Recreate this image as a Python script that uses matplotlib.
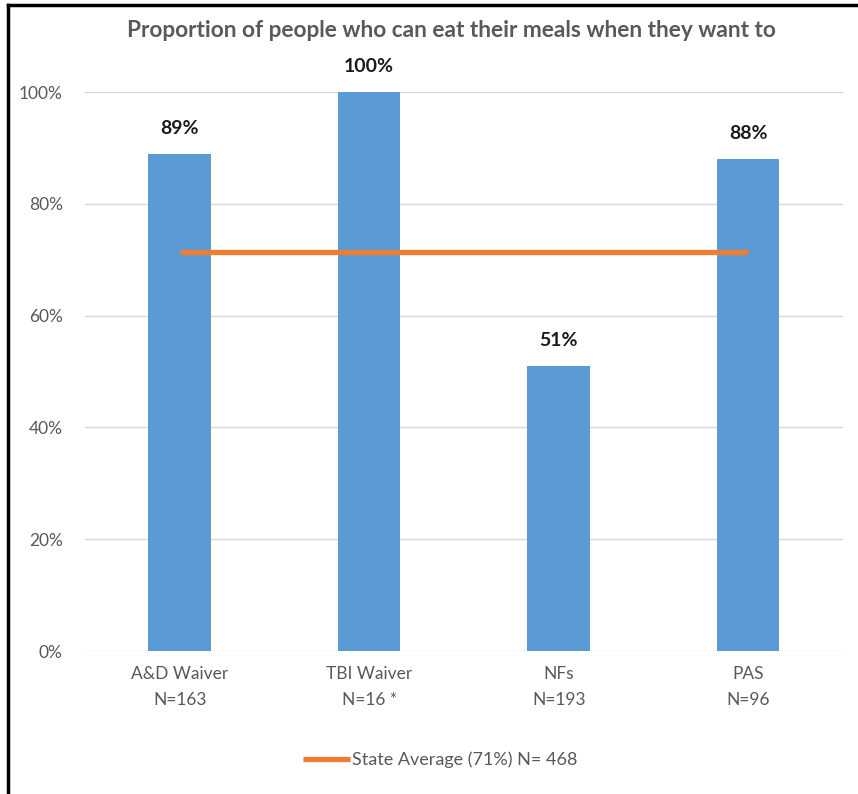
import matplotlib.pyplot as plt
from matplotlib.lines import Line2D
from matplotlib.ticker import PercentFormatter

categories = ["A&D Waiver\nN=163", "TBI Waiver\nN=16 *", "NFs\nN=193", "PAS\nN=96"]
values = [89, 100, 51, 88]
value_labels = ["89%", "100%", "51%", "88%"]
state_avg = 71.4
avg_label = "State Average (71%) N= 468"

plt.rcParams['font.family'] = ['Lato', 'DejaVu Sans']

blue = '#5B9BD5'
orange = '#ED7D31'
gray = '#595959'

fig = plt.figure(figsize=(8.58, 7.94), dpi=100)
ax = fig.add_axes([0.099, 0.180, 0.8835, 0.704])

x = list(range(len(categories)))
ax.bar(x, values, width=0.33, color=blue, zorder=2)
ax.plot(x, [state_avg] * len(x), color=orange, lw=3.8, zorder=3,
        solid_capstyle='butt', label=avg_label)

for xi, v, lab in zip(x, values, value_labels):
    ax.text(xi, v + 3.0, lab, ha='center', va='bottom', fontsize=14,
            fontweight='bold', color='#1a1a1a', clip_on=False)

ax.set_xlim(-0.5, len(categories) - 0.5)
ax.set_ylim(0, 100)
ax.set_yticks(range(0, 101, 20))
ax.yaxis.set_major_formatter(PercentFormatter(decimals=0))
ax.set_xticks(x)
ax.set_xticklabels(categories, fontsize=12.5, color=gray, linespacing=1.75)
ax.tick_params(axis='x', length=0, pad=11)
ax.tick_params(axis='y', length=0, pad=16, labelsize=12.5, labelcolor=gray)
ax.grid(axis='y', color='#D9D9D9', lw=1, zorder=0)
for s in ax.spines.values():
    s.set_visible(False)

fig.text(0.526, 0.962, "Proportion of people who can eat their meals when they want to",
         ha='center', va='center', fontsize=16.3, fontweight='bold', color=gray)

fig.legend(loc='center', bbox_to_anchor=(0.513, 0.043), frameon=False,
           fontsize=13, handlelength=2.6, handletextpad=0.1,
           labelcolor=gray)

# frame edges on the left and top
fig.add_artist(Line2D([0.0095, 0.0095], [0.0, 0.994], color='black', lw=2.5,
                      transform=fig.transFigure))
fig.add_artist(Line2D([0.0095, 1.0], [0.994, 0.994], color='black', lw=2.5,
                      transform=fig.transFigure))

fig.savefig('out.png', dpi=100)
